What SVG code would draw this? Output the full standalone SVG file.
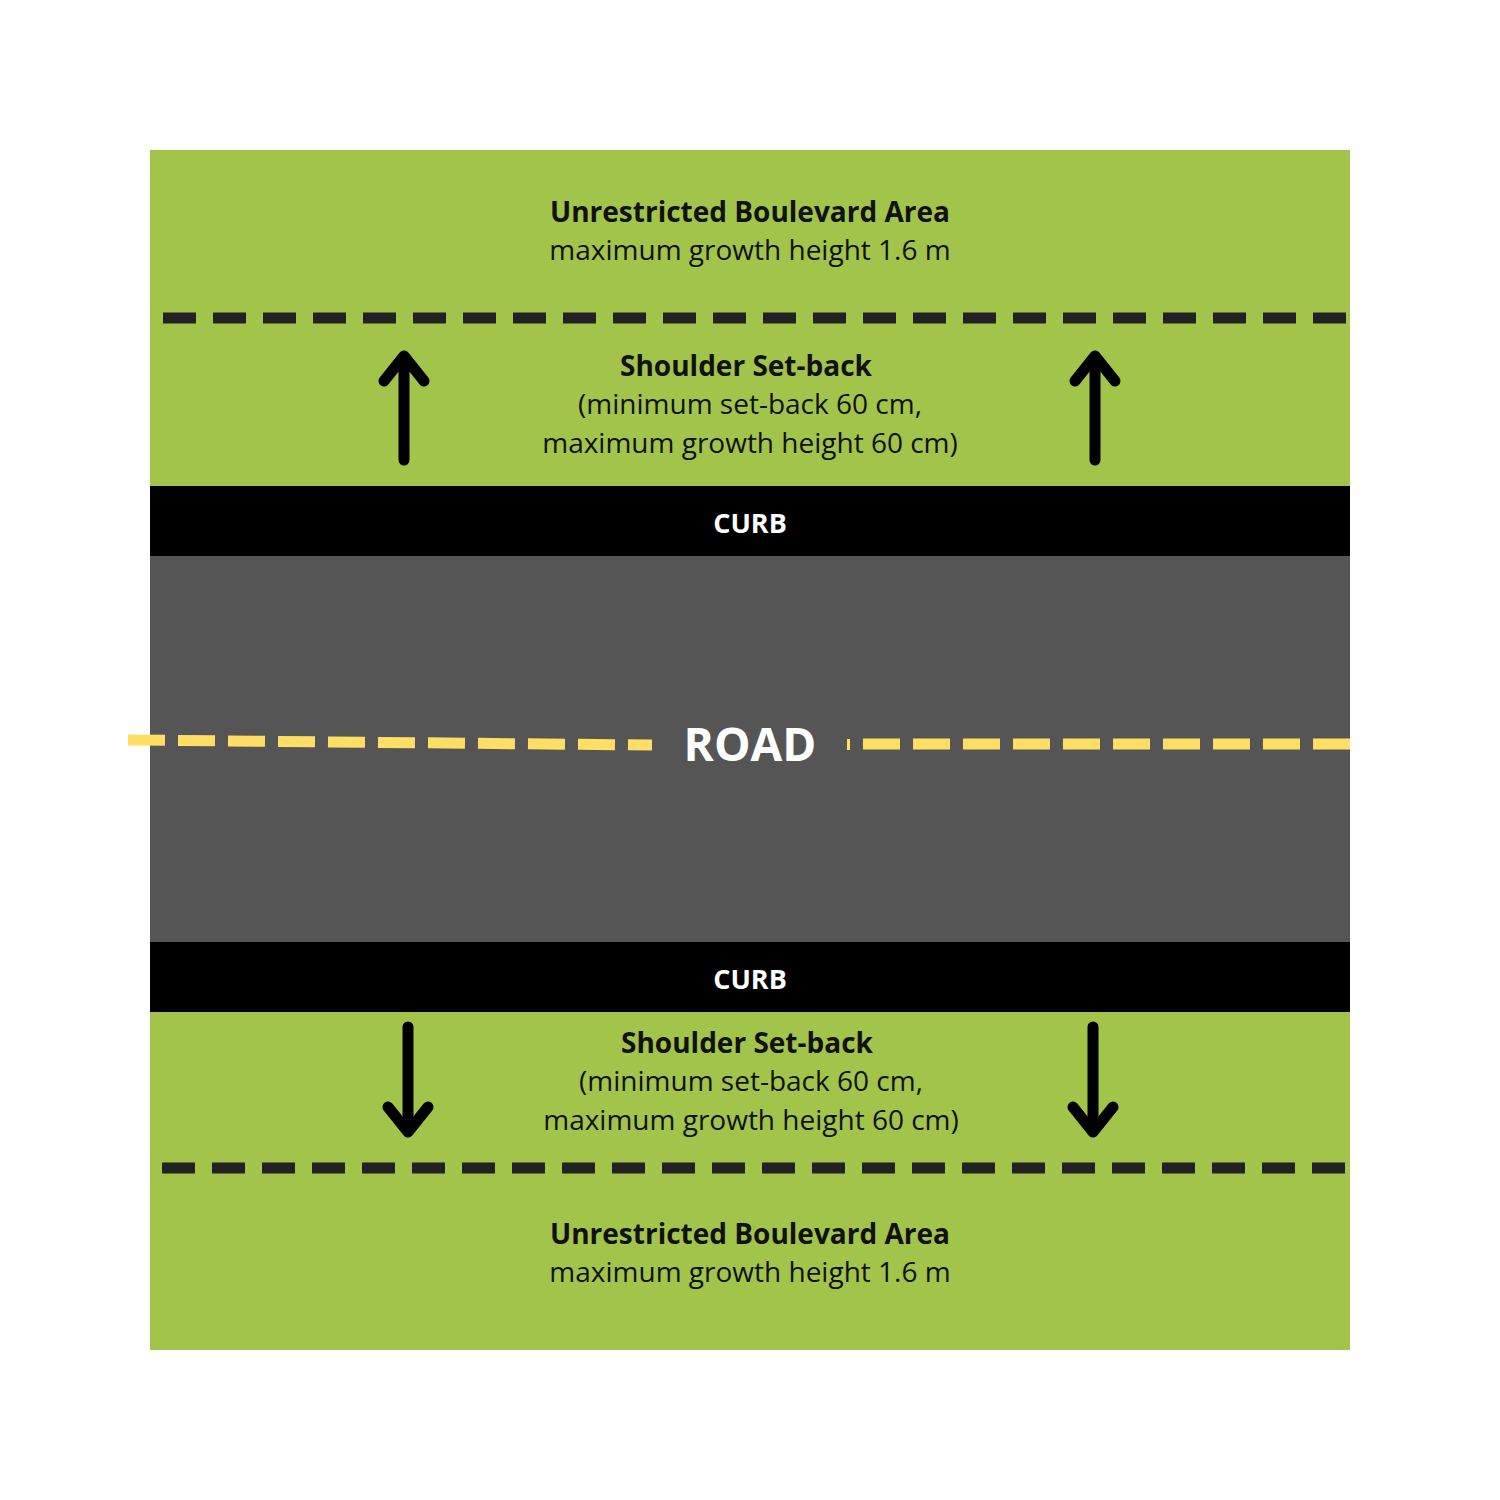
<svg xmlns="http://www.w3.org/2000/svg" width="1500" height="1500" viewBox="0 0 1500 1500">
<defs>
<style>
.t{font-family:"Open Sans","Noto Sans",sans-serif;font-size:28px;fill:#111;text-anchor:middle}
.b{font-weight:bold}
.w{fill:#fff;font-weight:bold;font-family:"Open Sans","Noto Sans",sans-serif;text-anchor:middle}
.dash{stroke:#222;stroke-width:11;stroke-dasharray:33 17;fill:none}
.yel{stroke:#FFDE66;stroke-width:11;stroke-dasharray:37 13;fill:none}
.arr{stroke:#000;stroke-width:11;fill:none;stroke-linejoin:round;stroke-linecap:round}
</style>
</defs>
<rect width="1500" height="1500" fill="#fff"/>
<rect x="150" y="150" width="1200" height="1200" fill="#A2C44B"/>
<rect x="150" y="556" width="1200" height="386" fill="#555555"/>
<rect x="150" y="486" width="1200" height="70" fill="#000"/>
<rect x="150" y="942" width="1200" height="70" fill="#000"/>
<path class="dash" d="M163 318H1350"/>
<path class="dash" d="M162 1168H1350"/>
<path class="yel" d="M128 740L652 745" stroke-dashoffset="0"/>
<path class="yel" d="M863 744H1350"/>
<rect x="847" y="739" width="3" height="11" fill="#FFDE66"/>
<g id="arrows">
<path class="arr" d="M404 460V360" stroke-linecap="butt"/><path class="arr" d="M384 381L404 356L424 381"/>
<path class="arr" d="M1095 460V360" stroke-linecap="butt"/><path class="arr" d="M1075 381L1095 356L1115 381"/>
<path class="arr" d="M408 1027V1127" stroke-linecap="butt"/><path class="arr" d="M388 1107L408 1132L428 1107"/>
<path class="arr" d="M1093 1027V1127" stroke-linecap="butt"/><path class="arr" d="M1073 1107L1093 1132L1113 1107"/>
</g>
<text class="t b" x="750" y="222">Unrestricted Boulevard Area</text>
<text class="t" x="750" y="260">maximum growth height 1.6 m</text>
<text class="t b" x="746" y="376">Shoulder Set-back</text>
<text class="t" x="750" y="414">(minimum set-back 60 cm,</text>
<text class="t" x="750" y="453">maximum growth height 60 cm)</text>
<text class="w" x="750" y="533" font-size="27">CURB</text>
<text class="w" x="750" y="761" font-size="46">ROAD</text>
<text class="w" x="750" y="989" font-size="27">CURB</text>
<text class="t b" x="747" y="1053">Shoulder Set-back</text>
<text class="t" x="751" y="1091">(minimum set-back 60 cm,</text>
<text class="t" x="751" y="1130">maximum growth height 60 cm)</text>
<text class="t b" x="750" y="1244">Unrestricted Boulevard Area</text>
<text class="t" x="750" y="1282">maximum growth height 1.6 m</text>
</svg>
